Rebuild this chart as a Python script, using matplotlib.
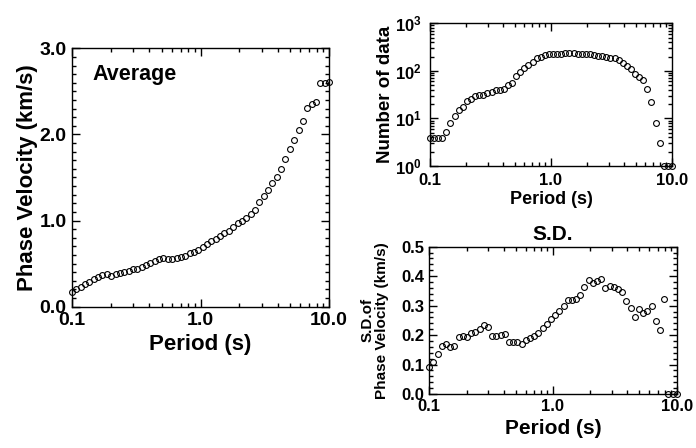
import numpy as np
import matplotlib
matplotlib.use("Agg")
import matplotlib.pyplot as plt
from matplotlib.ticker import LogLocator, FuncFormatter, MultipleLocator, NullFormatter, FixedLocator

plt.rcParams['font.family'] = ['Liberation Sans', 'DejaVu Sans']
plt.rcParams['font.weight'] = 'bold'
plt.rcParams['mathtext.fontset'] = 'custom'
plt.rcParams['mathtext.bf'] = 'Liberation Sans:bold'
plt.rcParams['mathtext.rm'] = 'Liberation Sans:bold'

# Periods (s)
periods = [0.100, 0.1081, 0.1169, 0.1264, 0.1367, 0.1477, 0.1597, 0.1727, 0.1867, 0.2019,
           0.2183, 0.2360, 0.2552, 0.2759, 0.2983, 0.3225, 0.3486, 0.3769, 0.4075, 0.4406,
           0.4764, 0.5151, 0.5569, 0.6021, 0.6510, 0.7038, 0.7609, 0.8227, 0.8895, 0.9617,
           1.040, 1.124, 1.216, 1.314, 1.421, 1.536, 1.661, 1.796, 1.942, 2.099,
           2.270, 2.454, 2.653, 2.868, 3.101, 3.353, 3.625, 3.920, 4.238, 4.582,
           4.953, 5.356, 5.790, 6.261, 6.769, 7.318, 7.912, 8.554, 9.249, 10.0]

# Average phase velocity (km/s)
avg_velocity = [0.17, 0.20, 0.23, 0.26, 0.29, 0.32, 0.34, 0.365, 0.376, 0.357,
                0.38, 0.395, 0.406, 0.418, 0.44, 0.434, 0.465, 0.484, 0.51, 0.53,
                0.55, 0.56, 0.554, 0.554, 0.56, 0.58, 0.59, 0.62, 0.64, 0.66,
                0.69, 0.725, 0.757, 0.79, 0.82, 0.85, 0.88, 0.93, 0.97, 0.99,
                1.035, 1.08, 1.125, 1.21, 1.29, 1.36, 1.435, 1.51, 1.60, 1.71,
                1.83, 1.93, 2.05, 2.16, 2.31, 2.35, 2.38, 2.60, 2.60, 2.61]

# Number of data
n_data = [3.9, 3.9, 3.9, 3.9, 5.1, 8.1, 11.2, 15, 17.6, 23,
          26, 29.6, 31, 31, 35, 36, 40, 40, 41, 50,
          56, 78, 93, 113, 133, 155, 183, 198, 215, 225,
          225, 229, 229, 233, 233, 233, 229, 229, 225, 222,
          215, 208, 201, 195, 189, 183, 169, 148, 128, 107,
          88, 75, 64, 41, 22, 8.1, 3.1, 1, 1, 1]

# Standard deviation of phase velocity (km/s)
sd_velocity = [0.093, 0.11, 0.135, 0.164, 0.17, 0.158, 0.163, 0.192, 0.197, 0.195,
               0.206, 0.212, 0.22, 0.234, 0.228, 0.198, 0.198, 0.20, 0.202, 0.175,
               0.175, 0.175, 0.17, 0.183, 0.19, 0.198, 0.208, 0.225, 0.238, 0.253,
               0.268, 0.282, 0.30, 0.32, 0.32, 0.322, 0.336, 0.364, 0.387, 0.378,
               0.385, 0.39, 0.359, 0.367, 0.364, 0.355, 0.347, 0.317, 0.293, 0.262,
               0.29, 0.274, 0.283, 0.299, 0.249, 0.217, 0.322, 0.0, 0.0, 0.0]

x_ticks = [0.1, 1.0, 10.0]
x_ticklabels = ['0.1', '1.0', '10.0']

W, H = 696, 448
fig = plt.figure(figsize=(W / 100, H / 100), dpi=100)

def ax_at(x0, y0, x1, y1):
    return fig.add_axes([x0 / W, 1 - y1 / H, (x1 - x0) / W, (y1 - y0) / H])

mk = dict(linestyle='none', marker='o', mfc='none', mec='black', ms=4.2, mew=0.8, clip_on=False, zorder=5)

def style_logx(ax, fs):
    ax.set_xscale('log')
    ax.set_xlim(0.1, 10)
    ax.xaxis.set_major_locator(FixedLocator(x_ticks))
    ax.xaxis.set_minor_locator(LogLocator(base=10, subs=np.arange(2, 10)))
    ax.xaxis.set_minor_formatter(NullFormatter())
    ax.set_xticklabels(x_ticklabels)
    ax.tick_params(which='both', direction='in', top=True, right=True, labelsize=fs, width=1)
    ax.tick_params(which='major', length=6)
    ax.tick_params(which='minor', length=3)
    for s in ax.spines.values():
        s.set_linewidth(1.0)

# Left panel: Average
ax1 = ax_at(72, 48.3, 329, 306.7)
ax1.plot(periods, avg_velocity, **mk)
style_logx(ax1, 14)
ax1.set_ylim(0, 3.0)
ax1.yaxis.set_major_locator(MultipleLocator(1.0))
ax1.yaxis.set_minor_locator(MultipleLocator(0.1))
ax1.yaxis.set_major_formatter(FuncFormatter(lambda v, p: f'{v:.1f}'))
ax1.tick_params(axis='both', which='major', pad=4)
ax1.set_xlabel('Period (s)', fontsize=16, fontweight='bold', va='center')
ax1.xaxis.set_label_coords(0.5, -0.148)
ax1.set_ylabel('Phase Velocity (km/s)', fontsize=16, fontweight='bold', va='center')
ax1.yaxis.set_label_coords(-0.175, 0.5)
ax1.text(0.08, 0.9, 'Average', transform=ax1.transAxes, fontsize=15.5, fontweight='bold', va='center', ha='left')

# Top right: Number of data
ax2 = ax_at(430, 23.3, 672, 166)
ax2.plot(periods, n_data, **mk)
style_logx(ax2, 12)
ax2.set_yscale('log')
ax2.set_ylim(1, 1000)
ax2.yaxis.set_major_locator(LogLocator(base=10, numticks=10))
ax2.yaxis.set_minor_locator(LogLocator(base=10, subs=np.arange(2, 10), numticks=10))
ax2.yaxis.set_minor_formatter(NullFormatter())
ax2.yaxis.set_major_formatter(FuncFormatter(lambda v, p: r'$\mathbf{10^{%d}}$' % int(round(np.log10(v)))))
ax2.tick_params(axis='y', which='both', labelsize=12)
ax2.tick_params(axis='y', which='major', pad=6)
ax2.tick_params(axis='x', which='major', pad=5)
ax2.set_xlabel('Period (s)', fontsize=13, fontweight='bold', va='center')
ax2.xaxis.set_label_coords(0.5, -0.235)
ax2.set_ylabel('Number of data', fontsize=13.5, fontweight='bold', va='center')
ax2.yaxis.set_label_coords(-0.185, 0.5)

# Bottom right: S.D.
ax3 = ax_at(429.3, 246.7, 676.7, 394)
ax3.plot(periods, sd_velocity, **mk)
style_logx(ax3, 12)
ax3.set_ylim(0, 0.5)
ax3.yaxis.set_major_locator(MultipleLocator(0.1))
ax3.yaxis.set_minor_locator(MultipleLocator(0.02))
ax3.yaxis.set_major_formatter(FuncFormatter(lambda v, p: f'{v:.1f}'))
ax3.set_title('S.D.', fontsize=15, fontweight='bold', pad=5)
ax3.set_xlabel('Period (s)', fontsize=15, fontweight='bold', va='center')
ax3.xaxis.set_label_coords(0.5, -0.231)
ax3.set_ylabel('S.D.of\nPhase Velocity (km/s)', fontsize=11, fontweight='bold', va='center',
               multialignment='center', linespacing=1.0)
ax3.yaxis.set_label_coords(-0.221, 0.5)

fig.savefig('out.png', dpi=100)
